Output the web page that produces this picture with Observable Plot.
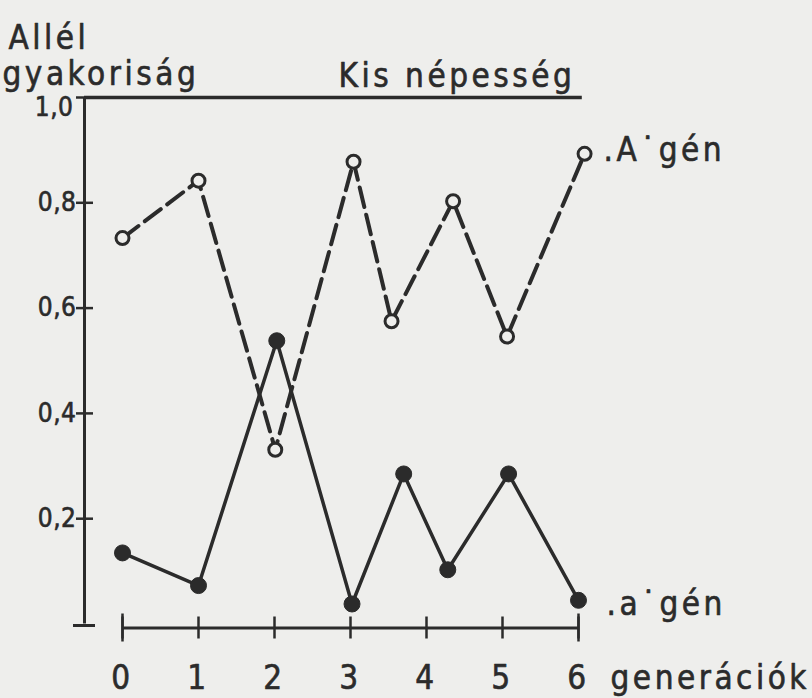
<!DOCTYPE html>
<html>
<head>
<meta charset="utf-8">
<script src="https://cdn.jsdelivr.net/npm/d3@7"></script>
<script src="https://cdn.jsdelivr.net/npm/@observablehq/plot@0.6"></script>
<style>
  html, body { margin: 0; padding: 0; background: #eeeeec; }
  #chart svg text { letter-spacing: 3.5px; font-stretch: condensed; }
  #chart svg g[text-anchor="end"] text { letter-spacing: 0.5px; }
</style>
</head>
<body>
<div id="chart"></div>
<script>
// Generation positions and allele frequencies
const genA = [0, 1, 2.01, 3.04, 3.54, 4.35, 5.06, 6.08];
const freqA = [0.733, 0.842, 0.331, 0.878, 0.575, 0.803, 0.546, 0.893];
const genSmallA = [0, 1, 2.03, 3.02, 3.70, 4.28, 5.08, 6.0];
const freqSmallA = [0.135, 0.073, 0.538, 0.038, 0.285, 0.103, 0.285, 0.045];

const xTicks = [0, 1, 2, 3, 4, 5, 6];
const xEndTicks = [0, 6];
const yTicks = [0.2, 0.4, 0.6, 0.8, 1.0];
const yTickLabels = ["0,2", "0,4", "0,6", "0,8", "1,0"];

const title = "Kis népesség";
const yTitle1 = "Allél";
const yTitle2 = "gyakoriság";
const xTitle = "generációk";
const labelA = ".A˙gén";
const labelSmallA = ".a˙gén";

const A = genA.map((g, i) => ({gen: g, freq: freqA[i]}));
const a = genSmallA.map((g, i) => ({gen: g, freq: freqSmallA[i]}));
const yt = yTicks.map((v, i) => ({v, label: yTickLabels[i]}));

const ink = "#2b2b2b";
const bg = "#eeeeec";
const font = "'DejaVu Sans Condensed', 'DejaVu Sans', sans-serif";

const W = 812, H = 698, mL = 84, mR = 234, mT = 97, mB = 74.5;
const xDomain = [-0.5, 6], yDomain = [0, 1];
// size of one pixel in data units (for tick-mark lengths)
const ux = (xDomain[1] - xDomain[0]) / (W - mL - mR);
const uy = (yDomain[1] - yDomain[0]) / (H - mT - mB);
const axisX = xDomain[0];

const textStyle = {fill: ink, stroke: ink, strokeWidth: 0.6};

const chart = Plot.plot({
  width: W,
  height: H,
  marginLeft: mL,
  marginRight: mR,
  marginTop: mT,
  marginBottom: mB,
  x: {domain: xDomain, axis: null},
  y: {domain: yDomain, axis: null},
  style: {background: bg, fontFamily: font, color: ink, overflow: "visible"},
  marks: [
    // y axis line, bottom cap and ticks crossing the axis
    Plot.ruleX([axisX], {y1: 0, y2: 1, stroke: ink, strokeWidth: 3}),
    Plot.ruleY([0], {x1: axisX - 11 * ux, x2: axisX + 11 * ux, dy: 1.5, stroke: ink, strokeWidth: 3}),
    Plot.ruleY(yt, {y: "v", x1: axisX - 8 * ux, x2: axisX + 9 * ux, stroke: ink, strokeWidth: 2.5}),
    Plot.text(yt.filter(d => d.v < 1), {x: axisX, y: "v", text: "label", textAnchor: "end", dx: -8, fontSize: 26, ...textStyle}),
    Plot.text(yt.filter(d => d.v === 1), {x: axisX, y: "v", text: "label", textAnchor: "end", dx: -11, dy: 10, fontSize: 26, ...textStyle}),
    // top line at 1.0
    Plot.ruleY([1], {x1: axisX, x2: 6.05, stroke: ink, strokeWidth: 3.5}),
    // x axis (offset below)
    Plot.ruleY([0], {x1: 0, x2: 6, dy: 4, stroke: ink, strokeWidth: 3}),
    Plot.ruleX(xTicks, {y1: -11 * uy, y2: 11 * uy, dy: 4, stroke: ink, strokeWidth: 2.5}),
    Plot.ruleX(xEndTicks, {y1: -14 * uy, y2: 14 * uy, dy: 4, stroke: ink, strokeWidth: 2.5}),
    Plot.text(xTicks, {x: d => d, y: 0, text: d => String(d), dy: 54, fontSize: 33, ...textStyle}),
    Plot.text([xTitle], {x: 6, y: 0, text: d => d, textAnchor: "start", dx: 32, dy: 54, fontSize: 33, ...textStyle}),
    // titles
    Plot.text([yTitle1], {frameAnchor: "top-left", text: d => d, textAnchor: "start", dx: -76, dy: -72, fontSize: 33, ...textStyle}),
    Plot.text([yTitle2], {frameAnchor: "top-left", text: d => d, textAnchor: "start", dx: -82, dy: -36, fontSize: 33, ...textStyle}),
    Plot.text([title], {frameAnchor: "top-left", text: d => d, textAnchor: "start", dx: 254, dy: -34, fontSize: 33, ...textStyle}),
    // series lines
    Plot.line(A, {x: "gen", y: "freq", stroke: ink, strokeWidth: 4, strokeDasharray: "20,8"}),
    Plot.line(a, {x: "gen", y: "freq", stroke: ink, strokeWidth: 3.5}),
    Plot.dot(A, {x: "gen", y: "freq", r: 6.5, fill: bg, stroke: ink, strokeWidth: 3}),
    Plot.dot(a, {x: "gen", y: "freq", r: 8, fill: ink, stroke: ink, strokeWidth: 1}),
    // series labels
    Plot.text(A, Plot.selectLast({x: "gen", y: "freq", text: () => labelA, textAnchor: "start", dx: 19, dy: -3, fontSize: 33, ...textStyle})),
    Plot.text(a, Plot.selectLast({x: "gen", y: "freq", text: () => labelSmallA, textAnchor: "start", dx: 28, dy: 4, fontSize: 33, ...textStyle}))
  ]
});
document.getElementById("chart").append(chart);
</script>
</body>
</html>
